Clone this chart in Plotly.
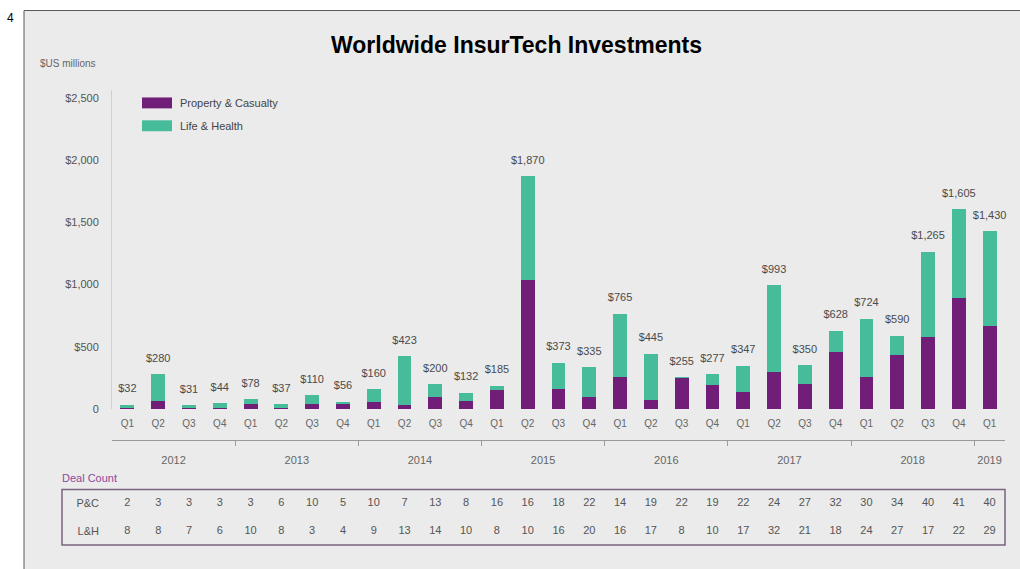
import plotly.graph_objects as go

# ---------------- data ----------------
years = ["2012", "2013", "2014", "2015", "2016", "2017", "2018", "2019"]
quarters = (["Q1", "Q2", "Q3", "Q4"] * 7) + ["Q1"]
periods = [f"{y} {q}" for y in years[:-1] for q in ["Q1", "Q2", "Q3", "Q4"]] + ["2019 Q1"]

pc_values = [10, 60, 6, 10, 38, 10, 40, 42, 55, 35, 95, 60, 150, 1035, 160, 95,
             255, 70, 250, 190, 135, 295, 200, 455, 255, 430, 575, 890, 670]
lh_values = [22, 220, 25, 34, 40, 27, 70, 14, 105, 388, 105, 72, 35, 835, 213, 240,
             510, 375, 5, 87, 212, 698, 150, 173, 469, 160, 690, 715, 760]

pc_deals = [2, 3, 3, 3, 3, 6, 10, 5, 10, 7, 13, 8, 16, 16, 18, 22, 14, 19, 22,
            19, 22, 24, 27, 32, 30, 34, 40, 41, 40]
lh_deals = [8, 8, 7, 6, 10, 8, 3, 4, 9, 13, 14, 10, 8, 10, 16, 20, 16, 17, 8,
            10, 17, 32, 21, 18, 24, 27, 17, 22, 29]

series_names = ["Property & Casualty", "Life & Health"]
y_tickvals = [0, 500, 1000, 1500, 2000, 2500]
y_ticktext = ["0", "$500", "$1,000", "$1,500", "$2,000", "$2,500"]

year_centers = [1.5, 5.5, 9.5, 13.5, 17.5, 21.5, 25.5, 28]
year_bounds = [3.5, 7.5, 11.5, 15.5, 19.5, 23.5, 27.5]

PURPLE = "#701e78"
GREEN = "#46bc9a"
FONT = "Liberation Sans, Arial, sans-serif"

totals = [p + l for p, l in zip(pc_values, lh_values)]
total_text = [f"${t:,}" for t in totals]

fig = go.Figure()
fig.add_trace(go.Bar(x=periods, y=pc_values, name=series_names[0],
                     marker=dict(color=PURPLE, line=dict(width=0)),
                     hoverinfo="skip", showlegend=False))
fig.add_trace(go.Bar(x=periods, y=lh_values, name=series_names[1],
                     marker=dict(color=GREEN, line=dict(width=0)),
                     hoverinfo="skip", showlegend=False))
fig.add_trace(go.Scatter(x=periods, y=totals, mode="markers+text", text=total_text,
                         textposition="top center",
                         marker=dict(size=14, opacity=0),
                         textfont=dict(size=11, color="#4a4a4a", family=FONT),
                         showlegend=False, hoverinfo="skip", cliponaxis=False))

# year axis helper (invisible)
fig.add_trace(go.Scatter(x=[-0.5, 28.5], y=[0, 0], xaxis="x3", yaxis="y",
                         mode="markers", marker=dict(opacity=0),
                         showlegend=False, hoverinfo="skip"))

# deal count table
idx = list(range(len(periods)))
fig.add_trace(go.Scatter(x=idx + idx, y=[1.5] * len(idx) + [0.5] * len(idx),
                         xaxis="x2", yaxis="y2", mode="text",
                         text=[str(v) for v in pc_deals + lh_deals],
                         textfont=dict(size=11, color="#555555", family=FONT),
                         showlegend=False, hoverinfo="skip", cliponaxis=False))

W, H = 1020, 569
L, R, T, B = 112, 15, 90, 15
PW, PH = W - L - R, H - T - B


def px_x(x):
    return (x - L) / PW


def px_y(y):
    return (H - B - y) / PH


main_bottom = px_y(411)

# manual legend (wide swatches like the reference)
legend_shapes = []
legend_annots = []
for i, (name, col) in enumerate(zip(series_names, [PURPLE, GREEN])):
    yc = 103 + i * 23
    legend_shapes.append(dict(type="rect", xref="paper", yref="paper",
                              x0=px_x(142), x1=px_x(172),
                              y0=px_y(yc + 5.5), y1=px_y(yc - 5.5),
                              fillcolor=col, line=dict(width=0)))
    legend_annots.append(dict(text=name, xref="paper", yref="paper",
                              x=px_x(178), y=px_y(yc), xanchor="left",
                              yanchor="middle", showarrow=False,
                              font=dict(size=11, color="#444444", family=FONT)))

fig.update_layout(
    width=W, height=H,
    margin=dict(l=L, r=R, t=T, b=B),
    paper_bgcolor="white",
    plot_bgcolor="rgba(0,0,0,0)",
    barmode="stack",
    bargap=0.55,
    font=dict(family=FONT, size=11, color="#555555"),
    showlegend=False,
    xaxis=dict(domain=[0, 1], anchor="y", type="category",
               categoryorder="array", categoryarray=periods,
               range=[-0.5, 28.5],
               tickvals=periods, ticktext=quarters, ticks="",
               ticklabelstandoff=7,
               tickfont=dict(size=10, color="#666666"),
               showline=False, showgrid=False, zeroline=False),
    yaxis=dict(domain=[main_bottom, 1], anchor="x",
               range=[0, 2564], tickvals=y_tickvals, ticktext=y_ticktext,
               showgrid=False, zeroline=False, showline=True,
               linecolor="#cfcfcf", linewidth=1, ticks="",
               ticklabelstandoff=10,
               tickfont=dict(size=11, color="#555555")),
    xaxis3=dict(overlaying="x", anchor="free", position=px_y(442),
                range=[-0.5, 28.5], domain=[0, 1],
                tickvals=year_centers, ticktext=years, ticks="",
                ticklabelstandoff=10,
                showline=True, linecolor="#9a9a9a", linewidth=1,
                showgrid=False, zeroline=False,
                tickfont=dict(size=11, color="#666666"),
                minor=dict(tickvals=year_bounds, ticks="outside",
                           ticklen=5, tickcolor="#9a9a9a")),
    xaxis2=dict(domain=[0, 1], anchor="y2", range=[-0.5, 28.5],
                visible=False),
    yaxis2=dict(domain=[px_y(548), px_y(492)], anchor="x2", range=[0, 2],
                tickvals=[1.5, 0.5], ticktext=["P&C", "L&H"],
                showgrid=False, zeroline=False, showline=False, ticks="",
                ticklabelstandoff=12,
                tickfont=dict(size=11, color="#555555")),
    shapes=[
        dict(type="rect", xref="paper", yref="paper",
             x0=px_x(24), x1=px_x(1040), y0=px_y(600), y1=px_y(10),
             fillcolor="#ebebeb", line=dict(color="#5a5a5a", width=1),
             layer="below"),
        dict(type="rect", xref="paper", yref="paper",
             x0=px_x(62), x1=px_x(1005), y0=px_y(548), y1=px_y(492),
             fillcolor="rgba(0,0,0,0)", line=dict(color="#7a6380", width=1.5)),
    ] + legend_shapes,
    annotations=[
        dict(text="<b>Worldwide InsurTech Investments</b>", xref="paper", yref="paper",
             x=px_x(516), y=px_y(45), xanchor="center", yanchor="middle",
             showarrow=False,
             font=dict(size=23, color="black", family=FONT)),
        dict(text="4", xref="paper", yref="paper", x=px_x(5), y=px_y(18),
             xanchor="left", yanchor="middle", showarrow=False,
             font=dict(size=12, color="black", family=FONT)),
        dict(text="$US millions", xref="paper", yref="paper", x=px_x(38), y=px_y(63),
             xanchor="left", yanchor="middle", showarrow=False,
             font=dict(size=10, color="#666666", family=FONT)),
        dict(text="Deal Count", xref="paper", yref="paper", x=px_x(60), y=px_y(481),
             xanchor="left", yanchor="middle", showarrow=False,
             font=dict(size=11, color="#8b4a9b", family=FONT)),
    ] + legend_annots,
)

fig.write_html("out.html")
